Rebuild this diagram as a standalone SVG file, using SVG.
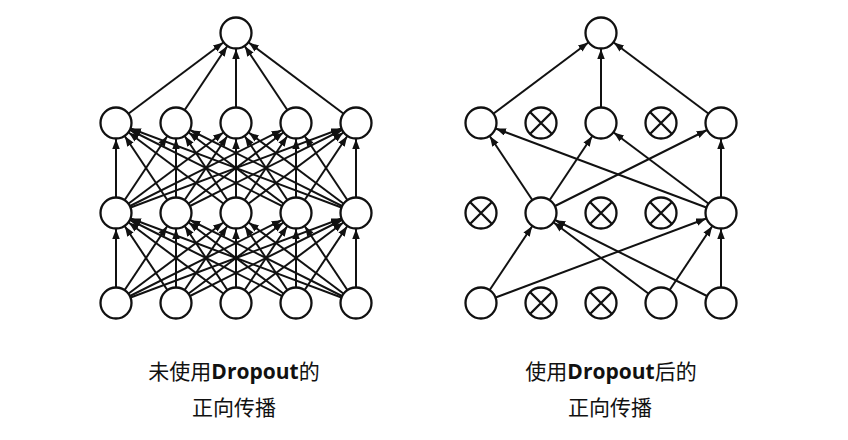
<svg xmlns="http://www.w3.org/2000/svg" width="848" height="440" viewBox="0 0 848 440">
<style>
.c{fill:#fff;stroke:#111;stroke-width:2.3}
.x{stroke:#111;stroke-width:2.3;fill:none}
.e line{stroke:#111;stroke-width:2;marker-end:url(#ah)}
.t{font-family:"Noto Sans CJK SC","Liberation Sans",sans-serif;font-size:21px;fill:#111;text-anchor:middle}
.b{font-family:"Open Sans","Liberation Sans",sans-serif;font-weight:bold}
</style>
<defs>
<marker id="ah" markerUnits="userSpaceOnUse" markerWidth="11" markerHeight="8" refX="26" refY="3.75" orient="auto">
<path d="M0,0 L10,3.75 L0,7.5 z" fill="#111"/>
</marker>
</defs>
<rect width="848" height="440" fill="#fff"/>
<g id="connectors" class="e">
<line x1="116" y1="123" x2="236" y2="33"/><line x1="176" y1="123" x2="236" y2="33"/><line x1="236" y1="123" x2="236" y2="33"/><line x1="296" y1="123" x2="236" y2="33"/><line x1="356" y1="123" x2="236" y2="33"/>
<line x1="116" y1="213" x2="116" y2="123"/><line x1="116" y1="213" x2="176" y2="123"/><line x1="116" y1="213" x2="236" y2="123"/><line x1="116" y1="213" x2="296" y2="123"/><line x1="116" y1="213" x2="356" y2="123"/>
<line x1="176" y1="213" x2="116" y2="123"/><line x1="176" y1="213" x2="176" y2="123"/><line x1="176" y1="213" x2="236" y2="123"/><line x1="176" y1="213" x2="296" y2="123"/><line x1="176" y1="213" x2="356" y2="123"/>
<line x1="236" y1="213" x2="116" y2="123"/><line x1="236" y1="213" x2="176" y2="123"/><line x1="236" y1="213" x2="236" y2="123"/><line x1="236" y1="213" x2="296" y2="123"/><line x1="236" y1="213" x2="356" y2="123"/>
<line x1="296" y1="213" x2="116" y2="123"/><line x1="296" y1="213" x2="176" y2="123"/><line x1="296" y1="213" x2="236" y2="123"/><line x1="296" y1="213" x2="296" y2="123"/><line x1="296" y1="213" x2="356" y2="123"/>
<line x1="356" y1="213" x2="116" y2="123"/><line x1="356" y1="213" x2="176" y2="123"/><line x1="356" y1="213" x2="236" y2="123"/><line x1="356" y1="213" x2="296" y2="123"/><line x1="356" y1="213" x2="356" y2="123"/>
<line x1="116" y1="303" x2="116" y2="213"/><line x1="116" y1="303" x2="176" y2="213"/><line x1="116" y1="303" x2="236" y2="213"/><line x1="116" y1="303" x2="296" y2="213"/><line x1="116" y1="303" x2="356" y2="213"/>
<line x1="176" y1="303" x2="116" y2="213"/><line x1="176" y1="303" x2="176" y2="213"/><line x1="176" y1="303" x2="236" y2="213"/><line x1="176" y1="303" x2="296" y2="213"/><line x1="176" y1="303" x2="356" y2="213"/>
<line x1="236" y1="303" x2="116" y2="213"/><line x1="236" y1="303" x2="176" y2="213"/><line x1="236" y1="303" x2="236" y2="213"/><line x1="236" y1="303" x2="296" y2="213"/><line x1="236" y1="303" x2="356" y2="213"/>
<line x1="296" y1="303" x2="116" y2="213"/><line x1="296" y1="303" x2="176" y2="213"/><line x1="296" y1="303" x2="236" y2="213"/><line x1="296" y1="303" x2="296" y2="213"/><line x1="296" y1="303" x2="356" y2="213"/>
<line x1="356" y1="303" x2="116" y2="213"/><line x1="356" y1="303" x2="176" y2="213"/><line x1="356" y1="303" x2="236" y2="213"/><line x1="356" y1="303" x2="296" y2="213"/><line x1="356" y1="303" x2="356" y2="213"/>
<line x1="481" y1="123" x2="601" y2="33"/><line x1="601" y1="123" x2="601" y2="33"/><line x1="721" y1="123" x2="601" y2="33"/>
<line x1="541" y1="213" x2="481" y2="123"/><line x1="721" y1="213" x2="481" y2="123"/>
<line x1="541" y1="213" x2="601" y2="123"/><line x1="721" y1="213" x2="601" y2="123"/>
<line x1="541" y1="213" x2="721" y2="123"/><line x1="721" y1="213" x2="721" y2="123"/>
<line x1="481" y1="303" x2="541" y2="213"/><line x1="661" y1="303" x2="541" y2="213"/><line x1="721" y1="303" x2="541" y2="213"/>
<line x1="481" y1="303" x2="721" y2="213"/><line x1="661" y1="303" x2="721" y2="213"/><line x1="721" y1="303" x2="721" y2="213"/>
</g>
<g id="left-nodes">
<g id="L-top"><circle class="c" cx="236" cy="33" r="15.5"/></g>
<g id="L-h1-1"><circle class="c" cx="116" cy="123" r="15.5"/></g>
<g id="L-h1-2"><circle class="c" cx="176" cy="123" r="15.5"/></g>
<g id="L-h1-3"><circle class="c" cx="236" cy="123" r="15.5"/></g>
<g id="L-h1-4"><circle class="c" cx="296" cy="123" r="15.5"/></g>
<g id="L-h1-5"><circle class="c" cx="356" cy="123" r="15.5"/></g>
<g id="L-h2-1"><circle class="c" cx="116" cy="213" r="15.5"/></g>
<g id="L-h2-2"><circle class="c" cx="176" cy="213" r="15.5"/></g>
<g id="L-h2-3"><circle class="c" cx="236" cy="213" r="15.5"/></g>
<g id="L-h2-4"><circle class="c" cx="296" cy="213" r="15.5"/></g>
<g id="L-h2-5"><circle class="c" cx="356" cy="213" r="15.5"/></g>
<g id="L-in-1"><circle class="c" cx="116" cy="303" r="15.5"/></g>
<g id="L-in-2"><circle class="c" cx="176" cy="303" r="15.5"/></g>
<g id="L-in-3"><circle class="c" cx="236" cy="303" r="15.5"/></g>
<g id="L-in-4"><circle class="c" cx="296" cy="303" r="15.5"/></g>
<g id="L-in-5"><circle class="c" cx="356" cy="303" r="15.5"/></g>
</g>
<g id="right-nodes">
<g id="R-top"><circle class="c" cx="601" cy="33" r="15.5"/></g>
<g id="R-h1-1"><circle class="c" cx="481" cy="123" r="15.5"/></g>
<g id="R-h1-2"><circle class="c" cx="541" cy="123" r="15.5"/><path class="x" d="M530,112 L552,134 M552,112 L530,134"/></g>
<g id="R-h1-3"><circle class="c" cx="601" cy="123" r="15.5"/></g>
<g id="R-h1-4"><circle class="c" cx="661" cy="123" r="15.5"/><path class="x" d="M650,112 L672,134 M672,112 L650,134"/></g>
<g id="R-h1-5"><circle class="c" cx="721" cy="123" r="15.5"/></g>
<g id="R-h2-1"><circle class="c" cx="481" cy="213" r="15.5"/><path class="x" d="M470,202 L492,224 M492,202 L470,224"/></g>
<g id="R-h2-2"><circle class="c" cx="541" cy="213" r="15.5"/></g>
<g id="R-h2-3"><circle class="c" cx="601" cy="213" r="15.5"/><path class="x" d="M590,202 L612,224 M612,202 L590,224"/></g>
<g id="R-h2-4"><circle class="c" cx="661" cy="213" r="15.5"/><path class="x" d="M650,202 L672,224 M672,202 L650,224"/></g>
<g id="R-h2-5"><circle class="c" cx="721" cy="213" r="15.5"/></g>
<g id="R-in-1"><circle class="c" cx="481" cy="303" r="15.5"/></g>
<g id="R-in-2"><circle class="c" cx="541" cy="303" r="15.5"/><path class="x" d="M530,292 L552,314 M552,292 L530,314"/></g>
<g id="R-in-3"><circle class="c" cx="601" cy="303" r="15.5"/><path class="x" d="M590,292 L612,314 M612,292 L590,314"/></g>
<g id="R-in-4"><circle class="c" cx="661" cy="303" r="15.5"/></g>
<g id="R-in-5"><circle class="c" cx="721" cy="303" r="15.5"/></g>
</g>
<g id="labels">
<text class="t" x="234" y="379">未使用<tspan class="b">Dropout</tspan>的</text>
<text class="t" x="234" y="415">正向传播</text>
<text class="t" x="611" y="379">使用<tspan class="b">Dropout</tspan>后的</text>
<text class="t" x="610" y="415">正向传播</text>
</g>
</svg>
